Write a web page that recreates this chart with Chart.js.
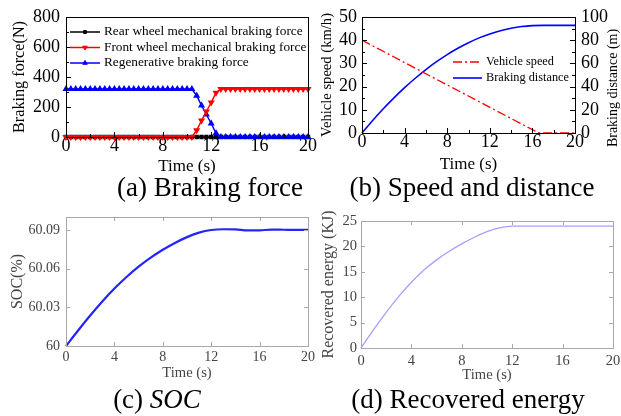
<!DOCTYPE html>
<html>
<head>
<meta charset="utf-8">
<script src="https://cdn.jsdelivr.net/npm/chart.js@4.4.1/dist/chart.umd.min.js"></script>
<style>
  html, body { margin: 0; padding: 0; background: #fff; }
  #wrap { position: relative; width: 621px; height: 416px; overflow: hidden; }
  canvas { position: absolute; }
  .cap { position: absolute; width: 320px; text-align: center; font: 27px "Liberation Serif", serif; line-height: 27px; color: #000; white-space: nowrap; }
</style>
</head>
<body>
<div id="wrap">
  <canvas id="force" width="330" height="175" style="left:0;top:0"></canvas>
  <canvas id="speed" width="311" height="175" style="left:310px;top:0"></canvas>
  <canvas id="soc" width="330" height="185" style="left:0;top:200px"></canvas>
  <canvas id="energy" width="311" height="185" style="left:310px;top:200px"></canvas>
  <div class="cap" style="left:50px;top:174px">(a) Braking force</div>
  <div class="cap" style="left:312px;top:174px">(b) Speed and distance</div>
  <div class="cap" style="left:-3px;top:386px">(c) <i>SOC</i></div>
  <div class="cap" style="left:308px;top:386px">(d) Recovered energy</div>
</div>
<script>
// (a) braking force, sampled every 0.4 s
const timeA = [
  0, 0.4, 0.8, 1.2, 1.6, 2, 2.4, 2.8, 3.2, 3.6,
  4, 4.4, 4.8, 5.2, 5.6, 6, 6.4, 6.8, 7.2, 7.6,
  8, 8.4, 8.8, 9.2, 9.6, 10, 10.4, 10.8, 11.2, 11.6,
  12, 12.4, 12.8, 13.2, 13.6, 14, 14.4, 14.8, 15.2, 15.6,
  16, 16.4, 16.8, 17.2, 17.6, 18, 18.4, 18.8, 19.2, 19.6,
  20
];
const rearForce = [
  0, 0, 0, 0, 0, 0, 0, 0, 0, 0,
  0, 0, 0, 0, 0, 0, 0, 0, 0, 0,
  0, 0, 0, 0, 0, 0, 0, 0, 0, 0,
  0, 0, 0, 0, 0, 0, 0, 0, 0, 0,
  0, 0, 0, 0, 0, 0, 0, 0, 0, 0,
  0
];
const frontForce = [
  0, 0, 0, 0, 0, 0, 0, 0, 0, 0,
  0, 0, 0, 0, 0, 0, 0, 0, 0, 0,
  0, 0, 0, 0, 0, 0, 0, 45, 110, 170,
  230, 295, 320, 320, 320, 320, 320, 320, 320, 320,
  320, 320, 320, 320, 320, 320, 320, 320, 320, 320,
  320
];
const regenForce = [
  320, 320, 320, 320, 320, 320, 320, 320, 320, 320,
  320, 320, 320, 320, 320, 320, 320, 320, 320, 320,
  320, 320, 320, 320, 320, 320, 320, 275, 210, 150,
  90, 25, 0, 0, 0, 0, 0, 0, 0, 0,
  0, 0, 0, 0, 0, 0, 0, 0, 0, 0,
  0
];

// (b) speed and braking distance
const speedTime = [0, 16.6, 20];
const speedKmh = [40, 0, 0];
const timeB = [0, 1, 2, 3, 4, 5, 6, 7, 8, 9, 10, 11, 12, 13, 14, 15, 16, 17, 18, 19, 20];
const distanceM = [0, 10.8, 20.9, 30.3, 39.1, 47.2, 54.7, 61.5, 67.6, 73.0, 77.8,
  82.0, 85.4, 88.2, 90.3, 91.8, 92.6, 92.8, 92.8, 92.8, 92.8];

// (c) SOC and (d) recovered energy, 1 s steps
const timeC = [0, 1, 2, 3, 4, 5, 6, 7, 8, 9, 10, 11, 12, 13, 14, 15, 16, 17, 18, 19, 20];
const socPct = [60, 60.0120, 60.0236, 60.0345, 60.0445, 60.0535, 60.0615, 60.0685, 60.0746, 60.0799,
  60.0844, 60.0879, 60.0899, 60.0905, 60.0904, 60.0896, 60.0897, 60.0902, 60.0901, 60.0900, 60.0900];
const socTicks = [60, 60.03, 60.06, 60.09];
const energyKJ = [0, 3.6, 7.0, 10.15, 12.95, 15.35, 17.35, 19.05, 20.5, 21.8,
  22.9, 23.65, 24.0, 24.0, 24.0, 24.0, 24.0, 24.0, 24.0, 24.0, 24.0];

const serif = '"Liberation Serif", "Times New Roman", serif';

function xy(xs, ys) {
  return xs.map((x, i) => ({ x: x, y: ys[i] }));
}

// pin an axis to a fixed thickness so the plot boxes line up
function fixSize(size) {
  return function (scale) {
    if (scale.isHorizontal()) scale.height = size; else scale.width = size;
    scale.paddingLeft = scale.paddingRight = scale.paddingTop = scale.paddingBottom = 0;
  };
}

// box around the plot area plus inward tick marks
const frameTicks = {
  id: 'frameTicks',
  afterDatasetsDraw(chart, args, opts) {
    const { ctx, chartArea: a } = chart;
    ctx.save();
    ctx.strokeStyle = opts.color;
    ctx.lineWidth = opts.lineWidth;
    ctx.beginPath();
    Object.values(chart.scales).forEach(scale => {
      const values = scale.ticks.map(t => t.value);
      const marks = values.map(v => [v, opts.length]);
      if (opts.minorLength) {
        for (let i = 1; i < values.length; i++) {
          marks.push([(values[i - 1] + values[i]) / 2, opts.minorLength]);
        }
      }
      marks.forEach(([v, l]) => {
        const p = Math.round(scale.getPixelForValue(v)) + 0.5;
        if (scale.isHorizontal()) {
          ctx.moveTo(p, a.bottom); ctx.lineTo(p, a.bottom - l);
          if (opts.mirror) { ctx.moveTo(p, a.top); ctx.lineTo(p, a.top + l); }
        } else {
          if (scale.position === 'left' || opts.mirror) { ctx.moveTo(a.left, p); ctx.lineTo(a.left + l, p); }
          if (scale.position === 'right' || opts.mirror) { ctx.moveTo(a.right, p); ctx.lineTo(a.right - l, p); }
        }
      });
    });
    ctx.stroke();
    ctx.strokeRect(a.left + 0.5, a.top + 0.5, a.right - a.left, a.bottom - a.top);
    ctx.restore();
  }
};

// legend with a short line sample and the marker in its middle
const lineLegend = {
  id: 'lineLegend',
  afterDraw(chart, args, opts) {
    if (!opts.show) return;
    const { ctx } = chart;
    ctx.save();
    ctx.font = opts.font;
    ctx.textBaseline = 'middle';
    chart.data.datasets.forEach((ds, i) => {
      const y = opts.y + i * opts.rowHeight;
      ctx.strokeStyle = ds.borderColor;
      ctx.lineWidth = ds.borderWidth;
      ctx.setLineDash(ds.borderDash || []);
      ctx.beginPath();
      ctx.moveTo(opts.x, y);
      ctx.lineTo(opts.x + opts.lineLength, y);
      ctx.stroke();
      ctx.setLineDash([]);
      if (ds.pointRadius) {
        ctx.fillStyle = ds.borderColor;
        ctx.lineWidth = 1;
        Chart.helpers.drawPoint(ctx, {
          pointStyle: ds.pointStyle, rotation: ds.pointRotation || 0,
          radius: ds.pointRadius, borderWidth: 1
        }, opts.x + opts.lineLength / 2, y);
      }
      ctx.fillStyle = '#000';
      ctx.fillText(ds.label, opts.x + opts.lineLength + opts.gap, y);
    });
    ctx.restore();
  }
};

// right-hand axis title, read bottom to top like the left one
const sideTitle = {
  id: 'sideTitle',
  afterDraw(chart, args, opts) {
    if (!opts.text) return;
    const { ctx } = chart;
    ctx.save();
    ctx.translate(opts.x, opts.y);
    ctx.rotate(-Math.PI / 2);
    ctx.font = opts.font;
    ctx.fillStyle = opts.color;
    ctx.textAlign = 'center';
    ctx.textBaseline = 'middle';
    ctx.fillText(opts.text, 0, 0);
    ctx.restore();
  }
};

function axisFont(size) {
  return { family: serif, size: size, lineHeight: 1 };
}

// (a) Braking force
new Chart(document.getElementById('force'), {
  type: 'line',
  plugins: [frameTicks, lineLegend],
  data: {
    datasets: [
      {
        label: 'Rear wheel mechanical braking force', data: xy(timeA, rearForce),
        borderColor: '#000', backgroundColor: '#000', borderWidth: 1.5,
        pointStyle: 'rect', pointRadius: 2, order: 3, clip: false
      },
      {
        label: 'Front wheel mechanical braking force', data: xy(timeA, frontForce),
        borderColor: '#ff0000', backgroundColor: '#ff0000', borderWidth: 1.5,
        pointStyle: 'triangle', pointRotation: 180, pointRadius: 2.6, order: 1, clip: false
      },
      {
        label: 'Regenerative braking force', data: xy(timeA, regenForce),
        borderColor: '#0000ff', backgroundColor: '#0000ff', borderWidth: 1.5,
        pointStyle: 'triangle', pointRadius: 2.6, order: 2, clip: false
      }
    ]
  },
  options: {
    responsive: false,
    animation: false,
    devicePixelRatio: 1,
    layout: { padding: { top: 17, right: 22, left: 0, bottom: 0 } },
    plugins: {
      legend: { display: false },
      tooltip: { enabled: false },
      frameTicks: { color: '#000', lineWidth: 1, length: 5, minorLength: 3 },
      lineLegend: { show: true, x: 70, y: 32, rowHeight: 15.5, lineLength: 30, gap: 4, font: '13.3px ' + serif }
    },
    scales: {
      x: {
        type: 'linear', min: 0, max: 20,
        ticks: { stepSize: 4, color: '#000', font: axisFont(18), padding: 0, maxRotation: 0 },
        grid: { display: false, drawTicks: false }, border: { display: false },
        title: { display: true, text: 'Time (s)', color: '#000', font: axisFont(17), padding: 0 },
        afterFit: fixSize(38)
      },
      y: {
        min: 0, max: 800,
        ticks: { stepSize: 200, color: '#000', font: axisFont(18), padding: 6 },
        grid: { display: false, drawTicks: false }, border: { display: false },
        title: { display: true, text: 'Braking force(N)', color: '#000', font: axisFont(16.2), padding: { top: 12, bottom: 0 } },
        afterFit: fixSize(66)
      }
    }
  }
});

// (b) Speed and distance
new Chart(document.getElementById('speed'), {
  type: 'line',
  plugins: [frameTicks, lineLegend, sideTitle],
  data: {
    datasets: [
      {
        label: 'Vehicle speed', data: xy(speedTime, speedKmh), yAxisID: 'y',
        borderColor: '#ff0000', borderWidth: 1.3, borderDash: [9, 3, 2, 3],
        pointRadius: 0, clip: false
      },
      {
        label: 'Braking distance', data: xy(timeB, distanceM), yAxisID: 'y1',
        borderColor: '#0000ff', borderWidth: 1.6, pointRadius: 0,
        cubicInterpolationMode: 'monotone', clip: false
      }
    ]
  },
  options: {
    responsive: false,
    animation: false,
    devicePixelRatio: 1,
    layout: { padding: { top: 17, right: 0, left: 0, bottom: 0 } },
    plugins: {
      legend: { display: false },
      tooltip: { enabled: false },
      frameTicks: { color: '#000', lineWidth: 1, length: 5, minorLength: 3 },
      lineLegend: { show: true, x: 143, y: 62, rowHeight: 16, lineLength: 29, gap: 4, font: '12.3px ' + serif },
      sideTitle: { text: 'Braking distance (m)', x: 303, y: 88, color: '#000', font: '14px ' + serif }
    },
    scales: {
      x: {
        type: 'linear', min: 0, max: 20,
        ticks: { stepSize: 4, color: '#000', font: axisFont(18), padding: 0, maxRotation: 0 },
        grid: { display: false, drawTicks: false }, border: { display: false },
        title: { display: true, text: 'Time (s)', color: '#000', font: axisFont(17), padding: { top: 0, bottom: 1.5 } },
        afterFit: fixSize(42)
      },
      y: {
        position: 'left', min: 0, max: 50,
        ticks: { stepSize: 10, color: '#000', font: axisFont(18), padding: 5 },
        grid: { display: false, drawTicks: false }, border: { display: false },
        title: { display: true, text: 'Vehicle speed (km/h)', color: '#000', font: axisFont(14.6), padding: { top: 10, bottom: 0 } },
        afterFit: fixSize(52)
      },
      y1: {
        position: 'right', min: 0, max: 100,
        ticks: { stepSize: 20, color: '#000', font: axisFont(18), padding: 6 },
        grid: { display: false, drawTicks: false }, border: { display: false },
        afterFit: fixSize(46)
      }
    }
  }
});

// (c) SOC
new Chart(document.getElementById('soc'), {
  type: 'line',
  plugins: [frameTicks],
  data: {
    datasets: [{
      label: 'SOC', data: xy(timeC, socPct),
      borderColor: '#2424ff', borderWidth: 2.2, pointRadius: 0,
      cubicInterpolationMode: 'monotone', clip: false
    }]
  },
  options: {
    responsive: false,
    animation: false,
    devicePixelRatio: 1,
    layout: { padding: { top: 17, right: 22, left: 0, bottom: 0 } },
    plugins: {
      legend: { display: false },
      tooltip: { enabled: false },
      frameTicks: { color: '#a8a8a8', lineWidth: 1, length: 4, mirror: true }
    },
    scales: {
      x: {
        type: 'linear', min: 0, max: 20,
        ticks: { stepSize: 4, color: '#444', font: axisFont(14), padding: 4, maxRotation: 0 },
        grid: { display: false, drawTicks: false }, border: { display: false },
        title: { display: true, text: 'Time (s)', color: '#444', font: axisFont(14.6), padding: { top: 0, bottom: 4.5 } },
        afterFit: fixSize(39)
      },
      y: {
        min: 60, max: 60.1,
        afterBuildTicks: scale => { scale.ticks = socTicks.map(v => ({ value: v })); },
        ticks: { color: '#444', font: axisFont(14), padding: 6, callback: v => String(+v.toFixed(2)) },
        grid: { display: false, drawTicks: false }, border: { display: false },
        title: { display: true, text: 'SOC(%)', color: '#444', font: axisFont(16), padding: { top: 10, bottom: 0 } },
        afterFit: fixSize(66)
      }
    }
  }
});

// (d) Recovered energy
new Chart(document.getElementById('energy'), {
  type: 'line',
  plugins: [frameTicks],
  data: {
    datasets: [{
      label: 'Recovered energy', data: xy(timeC, energyKJ),
      borderColor: '#a2a2ff', borderWidth: 1.3, pointRadius: 0,
      cubicInterpolationMode: 'monotone', clip: false
    }]
  },
  options: {
    responsive: false,
    animation: false,
    devicePixelRatio: 1,
    layout: { padding: { top: 21, right: 8, left: 0, bottom: 0 } },
    plugins: {
      legend: { display: false },
      tooltip: { enabled: false },
      frameTicks: { color: '#a8a8a8', lineWidth: 1, length: 4, mirror: true }
    },
    scales: {
      x: {
        type: 'linear', min: 0, max: 20,
        ticks: { stepSize: 4, color: '#444', font: axisFont(14.5), padding: 6, maxRotation: 0 },
        grid: { display: false, drawTicks: false }, border: { display: false },
        title: { display: true, text: 'Time (s)', color: '#444', font: axisFont(14.6), padding: { top: 0, bottom: 2.7 } },
        afterFit: fixSize(37)
      },
      y: {
        min: 0, max: 25,
        ticks: { stepSize: 5, color: '#444', font: axisFont(14.5), padding: 4 },
        grid: { display: false, drawTicks: false }, border: { display: false },
        title: { display: true, text: 'Recovered energy (KJ)', color: '#444', font: axisFont(16), padding: { top: 11, bottom: 0 } },
        afterFit: fixSize(51)
      }
    }
  }
});
</script>
</body>
</html>
